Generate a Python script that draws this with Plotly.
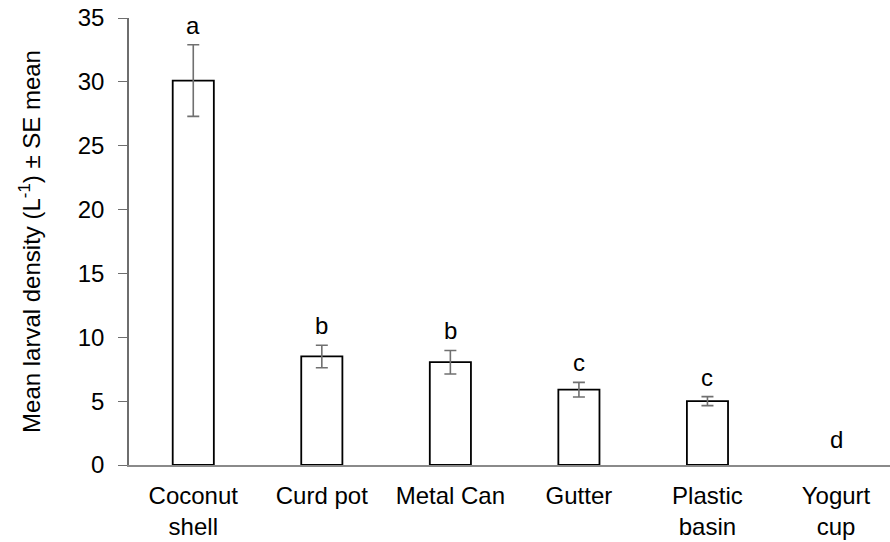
import plotly.graph_objects as go

categories = ["Coconut<br>shell", "Curd pot", "Metal Can", "Gutter", "Plastic<br>basin", "Yogurt<br>cup"]
means = [30.1, 8.5, 8.05, 5.9, 5.0, 0.0]
se = [2.8, 0.88, 0.92, 0.57, 0.35, 0.0]
letters = ["a", "b", "b", "c", "c", "d"]

FONT = "Liberation Sans"
FS = 24

has_bar = [m > 0 for m in means]

fig = go.Figure()
fig.add_trace(go.Bar(
    x=[i for i in range(len(categories)) if has_bar[i]],
    y=[m for m, h in zip(means, has_bar) if h],
    width=0.32,
    marker=dict(color="white", line=dict(color="black", width=1.8)),
    error_y=dict(type="data", array=[s for s, h in zip(se, has_bar) if h], visible=True,
                 color="#707070", thickness=1.6, width=6),
    showlegend=False,
))
for i, (m, s, l) in enumerate(zip(means, se, letters)):
    fig.add_annotation(x=i, y=m + s, text=l, showarrow=False, yanchor="bottom",
                       yshift=4 if m > 0 else 10, font=dict(family=FONT, size=FS, color="black"))

fig.update_layout(
    width=890, height=542,
    margin=dict(l=129, r=0, t=18, b=77),
    plot_bgcolor="white", paper_bgcolor="white",
    font=dict(family=FONT, size=FS, color="black"),
)
fig.update_xaxes(
    range=[-0.5, 5.42], tickmode="array", tickvals=list(range(len(categories))), ticktext=categories,
    showline=True, linecolor="#8a8a8a", linewidth=2, ticks="", showgrid=False, zeroline=False,
    tickfont=dict(family=FONT, size=24, color="black"), ticklabelstandoff=8, automargin=False,
)
fig.update_yaxes(
    range=[0, 35], dtick=5, showline=True, linecolor="#6e6e6e", linewidth=1.5,
    ticks="outside", ticklen=9, tickcolor="#6e6e6e", showgrid=False, zeroline=False,
    tickfont=dict(family=FONT, size=FS, color="black"), ticklabelstandoff=9, automargin=False,
    title=dict(text="Mean larval density (L<sup>-1</sup>) ± SE mean", font=dict(family=FONT, size=FS, color="black"), standoff=30),
)
fig.write_html("out.html", config={"displayModeBar": False},
               post_script="document.body.style.margin='0';")
